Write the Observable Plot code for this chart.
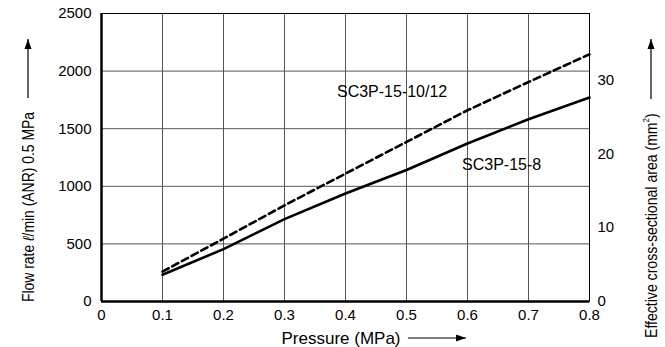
<!DOCTYPE html>
<html>
<head>
<meta charset="utf-8">
<script src="https://cdn.jsdelivr.net/npm/d3@7"></script>
<script src="https://cdn.jsdelivr.net/npm/@observablehq/plot@0.6"></script>
<style>
  html, body { margin: 0; padding: 0; background: #fff; }
  #chart { width: 665px; height: 347px; }
</style>
</head>
<body>
<div id="chart"></div>
<script>
// ---- data ----
const pressure = [0.1, 0.2, 0.3, 0.4, 0.5, 0.6, 0.7, 0.8];
const flowSC3P_15_8 = [232, 455, 715, 937, 1142, 1371, 1582, 1770];
const flowSC3P_15_10_12 = [260, 545, 835, 1110, 1385, 1660, 1905, 2146];
const seriesNames = ["SC3P-15-8", "SC3P-15-10/12"];
const xTicks = [0, 0.1, 0.2, 0.3, 0.4, 0.5, 0.6, 0.7, 0.8];
const xTickLabels = ["0", "0.1", "0.2", "0.3", "0.4", "0.5", "0.6", "0.7", "0.8"];
const yTicks = [0, 500, 1000, 1500, 2000, 2500];
const areaTicks = [0, 10, 20, 30];
const flowPerArea = 64.1; // ℓ/min per mm² (right axis conversion)

const rows8 = pressure.map((p, i) => ({p, q: flowSC3P_15_8[i], s: seriesNames[0]}));
const rows1012 = pressure.map((p, i) => ({p, q: flowSC3P_15_10_12[i], s: seriesNames[1]}));

const font = "'Liberation Sans', Arial, Helvetica, sans-serif";

const chart = Plot.plot({
  width: 665,
  height: 347,
  marginLeft: 101,
  marginRight: 76,
  marginTop: 13,
  marginBottom: 46,
  x: {domain: [0, 0.8]},
  y: {domain: [0, 2500]},
  style: {fontFamily: font, fontSize: "15px", background: "#fff", color: "#000"},
  marks: [
    Plot.ruleX(xTicks, {stroke: "#555", strokeWidth: 1}),
    Plot.ruleY(yTicks, {stroke: "#555", strokeWidth: 1}),
    Plot.frame({stroke: "#000", strokeWidth: 1}),
    Plot.ruleX([0], {stroke: "#000", strokeWidth: 2.5}),
    Plot.ruleY([0], {stroke: "#000", strokeWidth: 2.5}),
    Plot.line(rows8, {x: "p", y: "q", stroke: "#000", strokeWidth: 2.6}),
    Plot.line(rows1012, {x: "p", y: "q", stroke: "#000", strokeWidth: 2.6, strokeDasharray: "7,4"}),
    Plot.axisX({ticks: xTicks, tickSize: 0, tickPadding: 8, tickFormat: (d, i) => xTickLabels[i], label: null, fontSize: 15}),
    Plot.axisY({ticks: yTicks, tickSize: 0, tickPadding: 10, tickFormat: d => String(d), label: null, fontSize: 15}),
    Plot.text(areaTicks, {x: () => 0.8, y: d => d * flowPerArea, text: d => String(d), dx: 8, textAnchor: "start", fontSize: 15}),
    Plot.text([seriesNames[1]], {x: () => 0.386, y: () => 1819, text: d => d, textAnchor: "start", fontSize: 16}),
    Plot.text([seriesNames[0]], {x: () => 0.591, y: () => 1186, text: d => d, textAnchor: "start", fontSize: 16})
  ]
});

document.getElementById("chart").appendChild(chart);

// ---- axis titles and arrows ----
const svg = d3.select(chart);
const defs = svg.append("defs");
defs.append("marker")
  .attr("id", "ah").attr("viewBox", "0 0 10 10").attr("refX", 10).attr("refY", 5)
  .attr("markerWidth", 10).attr("markerHeight", 10).attr("markerUnits", "userSpaceOnUse")
  .attr("orient", "auto")
  .append("path").attr("d", "M0,1.5L10,5L0,8.5Z").attr("fill", "#000");

const deco = svg.append("g").attr("font-family", font).attr("fill", "#000");

// bottom title
deco.append("text").attr("x", 341).attr("y", 338).attr("dy", "0.35em")
  .attr("text-anchor", "middle").attr("font-size", 17).text("Pressure (MPa)");
deco.append("line").attr("x1", 408).attr("y1", 338).attr("x2", 466).attr("y2", 338)
  .attr("stroke", "#000").attr("stroke-width", 1.2).attr("marker-end", "url(#ah)");

// left title
const lt = deco.append("text").attr("transform", "translate(28,302) rotate(-90) scale(0.87,1)")
  .attr("dy", "0.35em").attr("text-anchor", "start").attr("font-size", 16);
lt.append("tspan").text("Flow rate ");
lt.append("tspan").attr("font-style", "italic").text("ℓ");
lt.append("tspan").text("/min (ANR) 0.5 MPa");
deco.append("line").attr("x1", 28).attr("y1", 98).attr("x2", 28).attr("y2", 39)
  .attr("stroke", "#000").attr("stroke-width", 1.2).attr("marker-end", "url(#ah)");

// right title
const rt = deco.append("text").attr("transform", "translate(651,338) rotate(-90) scale(0.88,1)")
  .attr("dy", "0.35em").attr("text-anchor", "start").attr("font-size", 16);
rt.append("tspan").text("Effective cross-sectional area (mm");
rt.append("tspan").attr("font-size", 9).attr("dy", "-0.9em").text("2");
rt.append("tspan").attr("dy", "0.55em").text(")");
deco.append("line").attr("x1", 651).attr("y1", 99).attr("x2", 651).attr("y2", 39)
  .attr("stroke", "#000").attr("stroke-width", 1.2).attr("marker-end", "url(#ah)");
</script>
</body>
</html>
